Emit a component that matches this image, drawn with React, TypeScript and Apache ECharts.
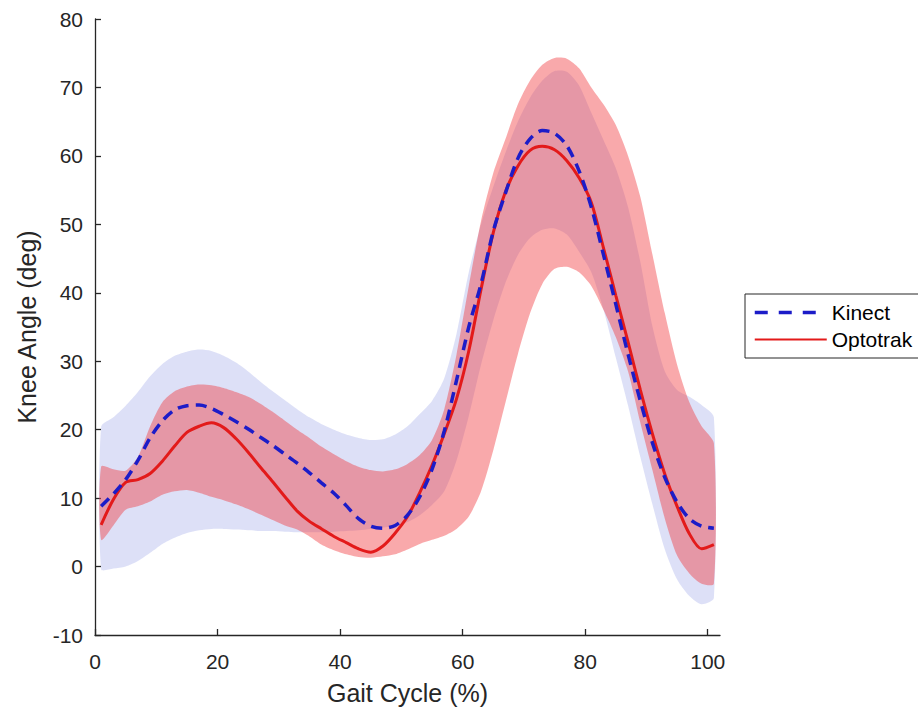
import React, { useEffect, useRef } from "react";
import * as echarts from "echarts";

// Gait cycle (%) sample positions
const gaitCycle = [1, 3, 5, 7, 9, 11, 13, 15, 17, 19, 21, 23, 25, 27, 29, 31, 33, 35, 37, 39, 41, 43, 45, 47, 49, 51, 53, 55, 57, 59, 61, 63, 65, 67, 69, 71, 73, 75, 77, 79, 81, 83, 85, 87, 89, 91, 93, 95, 97, 99, 101];

// Kinect mean knee angle (deg)
const kinectMean = [8.8, 10.6, 12.7, 15.5, 18.8, 21.3, 22.9, 23.5, 23.6, 23.1, 22.2, 21.2, 20.1, 18.9, 17.7, 16.4, 15.1, 13.7, 12.2, 10.7, 8.9, 7.0, 5.9, 5.6, 6.0, 7.5, 10.2, 14.2, 19.8, 27.2, 35.0, 41.3, 49.0, 54.6, 59.6, 62.5, 63.7, 63.3, 61.5, 57.8, 52.5, 45.5, 38.3, 31.0, 24.2, 18.0, 13.0, 9.4, 7.0, 5.9, 5.6];
// Kinect mean + SD
const kinectUpper = [20.4, 21.8, 23.5, 25.5, 27.8, 29.6, 30.8, 31.4, 31.7, 31.5, 30.8, 29.8, 28.5, 27.0, 25.6, 24.3, 23.0, 21.8, 20.8, 20.0, 19.3, 18.8, 18.5, 18.6, 19.3, 20.5, 22.3, 24.2, 27.5, 34.0, 43.0, 50.0, 55.5, 60.5, 65.0, 68.5, 71.0, 72.4, 72.3, 70.3, 66.3, 62.3, 58.2, 52.5, 44.5, 35.0, 28.5, 25.8, 24.8, 23.6, 21.8];
// Kinect mean - SD
const kinectLower = [-0.4, -0.3, 0.0, 0.8, 2.0, 3.3, 4.2, 4.9, 5.3, 5.5, 5.5, 5.4, 5.3, 5.2, 5.2, 5.1, 5.0, 5.0, 5.0, 5.1, 5.2, 5.3, 5.5, 5.7, 6.0, 6.5, 7.5, 9.0, 11.0, 15.5, 22.0, 29.5, 36.0, 41.5, 45.5, 48.0, 49.2, 49.4, 48.5, 46.0, 43.0, 37.5, 30.5, 23.5, 16.0, 9.0, 2.5, -1.9, -4.3, -5.5, -4.6];

// Optotrak mean knee angle (deg)
const optotrakMean = [6.1, 9.8, 12.3, 12.7, 13.6, 15.4, 17.6, 19.6, 20.5, 21.0, 20.3, 18.7, 16.7, 14.5, 12.4, 10.2, 8.1, 6.6, 5.5, 4.4, 3.5, 2.6, 2.1, 3.0, 4.9, 7.3, 10.8, 14.8, 19.4, 24.5, 31.5, 40.5, 48.8, 54.8, 58.5, 60.8, 61.4, 60.9, 59.3, 56.8, 53.2, 46.5, 39.6, 32.8, 25.8, 19.3, 13.5, 8.8, 4.8, 2.6, 3.2];
// Optotrak mean + SD
const optotrakUpper = [14.6, 14.2, 14.0, 16.0, 20.5, 24.0, 25.6, 26.3, 26.6, 26.5, 26.1, 25.5, 24.8, 23.8, 22.6, 21.3, 20.0, 18.8, 17.5, 16.4, 15.4, 14.6, 14.1, 13.9, 14.2, 15.0, 16.3, 18.5, 23.0, 31.0, 41.0, 50.5, 57.5, 62.5, 67.5, 71.0, 73.3, 74.3, 74.2, 72.8, 70.0, 67.5, 64.5, 60.0, 54.0, 45.5, 37.0, 29.5, 24.0, 20.5, 18.0];
// Optotrak mean - SD
const optotrakLower = [3.9, 6.0, 8.3, 8.8, 9.5, 10.5, 11.0, 11.2, 10.8, 10.2, 9.7, 9.1, 8.4, 7.6, 6.8, 6.0, 5.4, 4.4, 3.2, 2.4, 1.8, 1.4, 1.3, 1.5, 1.8, 2.5, 3.3, 3.9, 4.5, 5.5, 7.3, 11.0, 17.0, 24.0, 31.0, 37.0, 41.3, 43.5, 43.8, 43.0, 41.0, 37.5, 33.5, 28.5, 21.0, 14.0, 7.0, 1.6, -1.0, -2.5, -2.5];

const xTicks = [0, 20, 40, 60, 80, 100];
const seriesNames = ["Kinect", "Optotrak"];

const FONT = "'Liberation Sans', Arial, Helvetica, sans-serif";
const TEXT = "#262626";

export default function App() {
  const ref = useRef<HTMLDivElement>(null);

  useEffect(() => {
    document.body.style.margin = "0";
    if (!ref.current) return;
    const chart = echarts.init(ref.current, undefined, { renderer: "svg" });

    const pairs = (ys: number[]) => gaitCycle.map((x, i) => [x, ys[i]]);

    const band = (name: string, lo: number[], hi: number[], fill: string, z: number) => ({
      name,
      type: "custom",
      silent: true,
      z,
      data: gaitCycle.map((x, i) => [x, lo[i], hi[i]]),
      encode: { x: 0, y: [1, 2] },
      renderItem: (params: any, api: any) => {
        if (params.dataIndex !== 0) return null;
        const top = gaitCycle.map((x, i) => api.coord([x, hi[i]]));
        const bottom = gaitCycle.map((x, i) => api.coord([x, lo[i]])).reverse();
        return {
          type: "polygon",
          shape: { points: top.concat(bottom), smooth: 0.25 },
          style: { fill, stroke: "none" },
        };
      },
    });

    const hiddenSymbol = { opacity: 0, color: "rgba(0,0,0,0)", borderWidth: 0 };

    chart.setOption({
      animation: false,
      backgroundColor: "#ffffff",
      textStyle: { fontFamily: FONT },
      grid: { left: 95, top: 19, right: 198, bottom: 78, outerBoundsMode: "none", containLabel: false },
      legend: {
        data: [
          { name: seriesNames[0], lineStyle: { type: [13, 11], width: 3.5 }, itemStyle: hiddenSymbol },
          { name: seriesNames[1], itemStyle: hiddenSymbol },
        ],
        orient: "vertical",
        left: 745,
        top: 294,
        borderColor: TEXT,
        borderWidth: 1,
        padding: [8, 24, 8, 8],
        itemWidth: 72,
        itemHeight: 14,
        itemGap: 6,
        textStyle: { fontSize: 21, color: "#000", fontFamily: FONT },
        selectedMode: false,
      },
      xAxis: {
        type: "value",
        min: 0,
        max: 102,
        interval: 20,
        axisLine: { show: true, onZero: false, lineStyle: { color: TEXT, width: 1.3 } },
        axisTick: { show: true, inside: true, length: 6, customValues: xTicks, lineStyle: { color: TEXT, width: 1.3 } },
        axisLabel: { customValues: xTicks, fontSize: 21, color: TEXT, margin: 16, fontFamily: FONT },
        splitLine: { show: false },
        name: "Gait Cycle (%)",
        nameLocation: "middle",
        nameGap: 45,
        nameTextStyle: { fontSize: 25, color: TEXT, fontFamily: FONT },
      },
      yAxis: {
        type: "value",
        min: -10,
        max: 80,
        interval: 10,
        axisLine: { show: true, onZero: false, lineStyle: { color: TEXT, width: 1.3 } },
        axisTick: { show: true, inside: true, length: 6, lineStyle: { color: TEXT, width: 1.3 } },
        axisLabel: { fontSize: 21, color: TEXT, margin: 12, fontFamily: FONT },
        splitLine: { show: false },
        name: "Knee Angle (deg)",
        nameLocation: "middle",
        nameGap: 56,
        nameTextStyle: { fontSize: 25, color: TEXT, fontFamily: FONT },
      },
      series: [
        band("kBand", kinectLower, kinectUpper, "rgba(110,120,220,0.23)", 1),
        band("oBand", optotrakLower, optotrakUpper, "rgba(240,50,55,0.42)", 2),
        {
          name: seriesNames[1],
          type: "line",
          data: pairs(optotrakMean),
          smooth: 0.3,
          symbol: "none",
          color: "#e31a1a",
          lineStyle: { color: "#e31a1a", width: 3 },
          z: 3,
        },
        {
          name: seriesNames[0],
          type: "line",
          data: pairs(kinectMean),
          smooth: 0.3,
          symbol: "none",
          color: "#1c1cc8",
          lineStyle: { color: "#1c1cc8", width: 3.5, type: [11, 7] },
          z: 4,
        },
      ],
    });

    return () => chart.dispose();
  }, []);

  return <div ref={ref} style={{ width: 918, height: 713 }} />;
}
